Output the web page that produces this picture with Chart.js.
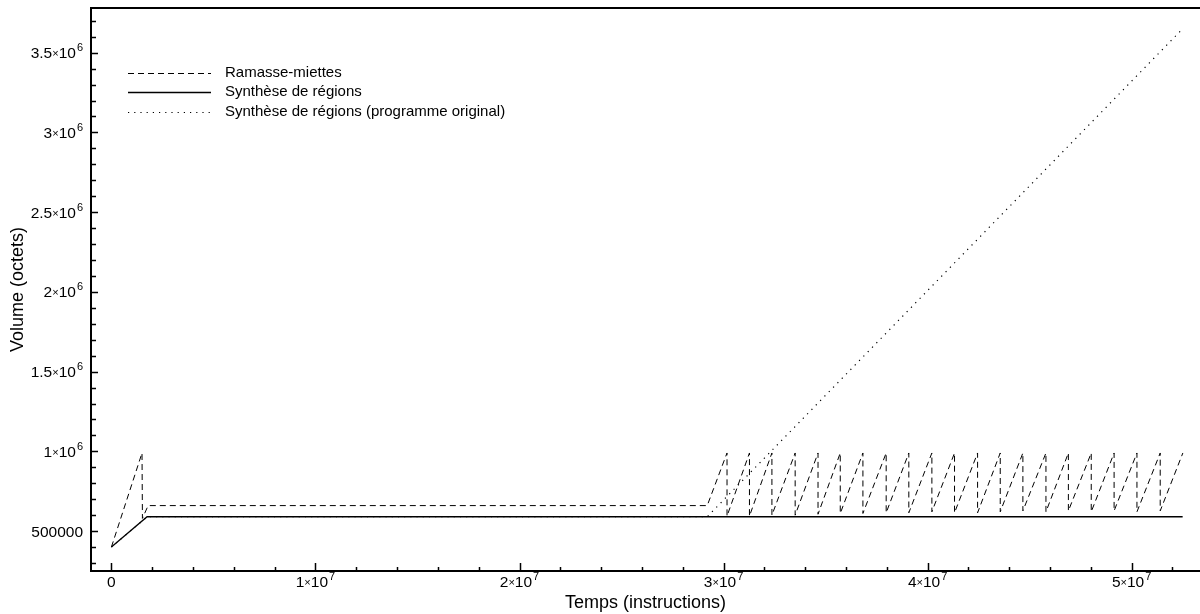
<!DOCTYPE html>
<html lang="fr">
<head>
<meta charset="UTF-8">
<title>Volume mémoire</title>
<script src="https://cdn.jsdelivr.net/npm/chart.js"></script>
<style>
  html, body { margin: 0; padding: 0; background: #fff; }
  #wrap { width: 1200px; height: 614px; }
</style>
</head>
<body>
<div id="wrap"><canvas id="memChart" width="1200" height="614"></canvas></div>
<script>
// --- data ---
const seriesLabels = [
  "Ramasse-miettes",
  "Synthèse de régions",
  "Synthèse de régions (programme original)"
];

// garbage collector: first spike, long plateau, then sawtooth
const gcStartTimes   = [0, 1500000, 1520000, 1800000, 29200000];
const gcStartVolumes = [400000, 990000, 580000, 660000, 660000];
const sawPeakTimes = [
  30170000, 31270000, 32370000, 33510000, 34630000, 35720000, 36830000,
  37970000, 39080000, 40210000, 41320000, 42450000, 43560000, 44670000,
  45800000, 46900000, 48020000, 49140000, 50260000, 51400000, 52510000
];
const sawPeakVolumes = [
  990000, 990000, 990000, 990000, 990000, 990000, 990000,
  990000, 990000, 990000, 990000, 990000, 990000, 990000,
  990000, 990000, 990000, 990000, 990000, 990000, 990000
];
const sawBottomVolumes = [
  594000, 594000, 600000, 600000, 606000, 611000, 611000,
  615000, 615000, 621000, 615000, 615000, 621000, 627000,
  621000, 627000, 621000, 627000, 621000, 627000
];

const regionTimes   = [0, 1750000, 52500000];
const regionVolumes = [400000, 590000, 590000];

const origTimes   = [0, 1750000, 29200000, 52500000];
const origVolumes = [400000, 590000, 590000, 3650000];

const xTickValues = [0, 10000000, 20000000, 30000000, 40000000, 50000000];
const xTickLabels = ["0", "1×10⁷", "2×10⁷", "3×10⁷", "4×10⁷", "5×10⁷"];
const yTickValues = [500000, 1000000, 1500000, 2000000, 2500000, 3000000, 3500000];
const yTickLabels = ["500000", "1×10⁶", "1.5×10⁶", "2×10⁶", "2.5×10⁶", "3×10⁶", "3.5×10⁶"];

const xMinorStep = 2000000;
const yMinorStep = 100000;

// --- build point lists ---
const zip = (xs, ys) => xs.map((x, i) => ({ x: x, y: ys[i] }));

const gcPoints = zip(gcStartTimes, gcStartVolumes);
sawPeakTimes.forEach((t, i) => {
  gcPoints.push({ x: t, y: sawPeakVolumes[i] });
  if (i < sawBottomVolumes.length) gcPoints.push({ x: t, y: sawBottomVolumes[i] });
});

const FONT = "'Liberation Sans', Arial, Helvetica, sans-serif";
const TICK_SIZE = 15.5;
const SMALL_SIZE = 11;
const SUPS = "⁰¹²³⁴⁵⁶⁷⁸⁹";

// draws "m×10ᵉ" with a real raised exponent; plain labels as is
function drawTickLabel(ctx, label, x, y, align) {
  const parts = label.split("×10");
  const big = TICK_SIZE + "px " + FONT;
  const small = SMALL_SIZE + "px " + FONT;
  ctx.textBaseline = "alphabetic";
  ctx.textAlign = "left";
  const base = y + TICK_SIZE * 0.36;
  if (parts.length < 2) {
    ctx.font = big;
    const w = ctx.measureText(label).width;
    ctx.fillText(label, align === "right" ? x - w : x - w / 2, base);
    return;
  }
  const exp = parts[1].split("").map(c => SUPS.indexOf(c)).join("");
  ctx.font = big;
  const wm = ctx.measureText(parts[0]).width;
  const wt = ctx.measureText("10").width;
  ctx.font = small;
  const wx = ctx.measureText("×").width;
  const we = ctx.measureText(exp).width;
  const total = wm + wx + wt + we + 1;
  let cx = align === "right" ? x - total : x - total / 2;
  ctx.font = big;
  ctx.fillText(parts[0], cx, base);
  cx += wm;
  ctx.font = small;
  ctx.fillText("×", cx, base - 1);
  cx += wx;
  ctx.font = big;
  ctx.fillText("10", cx, base);
  cx += wt + 1;
  ctx.font = small;
  ctx.fillText(exp, cx, base - TICK_SIZE * 0.45);
}

// inward tick marks, tick labels, top frame line and the in-plot legend
const framePlugin = {
  id: "frame",
  afterDraw(chart) {
    const { ctx, chartArea: a, scales } = chart;
    const xs = scales.x, ys = scales.y;
    ctx.save();
    ctx.strokeStyle = "#000";
    ctx.fillStyle = "#000";
    ctx.lineWidth = 1.5;
    ctx.beginPath();
    for (let v = 0; v <= xs.max; v += xMinorStep) {
      const px = Math.round(xs.getPixelForValue(v)) + 0.5;
      const len = xTickValues.includes(v) ? 8 : 4;
      ctx.moveTo(px, a.bottom);
      ctx.lineTo(px, a.bottom - len);
    }
    for (let v = 300000; v <= ys.max; v += yMinorStep) {
      const py = Math.round(ys.getPixelForValue(v)) + 0.5;
      const len = yTickValues.includes(v) ? 7 : 5;
      ctx.moveTo(a.left, py);
      ctx.lineTo(a.left + len, py);
    }
    ctx.stroke();

    xTickValues.forEach((v, i) => {
      drawTickLabel(ctx, xTickLabels[i], xs.getPixelForValue(v), a.bottom + 10, "center");
    });
    yTickValues.forEach((v, i) => {
      drawTickLabel(ctx, yTickLabels[i], a.left - 8, ys.getPixelForValue(v), "right");
    });

    // top border
    ctx.lineWidth = 2;
    ctx.beginPath();
    ctx.moveTo(a.left, a.top);
    ctx.lineTo(a.right, a.top);
    ctx.stroke();

    // legend
    ctx.font = "15px " + FONT;
    ctx.textBaseline = "middle";
    ctx.textAlign = "left";
    chart.data.datasets.forEach((ds, i) => {
      const y = 72.5 + i * 19.6;
      ctx.setLineDash(ds.borderDash || []);
      ctx.lineWidth = ds.borderWidth;
      ctx.beginPath();
      ctx.moveTo(128, Math.round(y) + 0.5);
      ctx.lineTo(211, Math.round(y) + 0.5);
      ctx.stroke();
      ctx.setLineDash([]);
      ctx.fillText(ds.label, 225, y);
    });
    ctx.restore();
  }
};

new Chart(document.getElementById("memChart").getContext("2d"), {
  type: "line",
  data: {
    datasets: [
      {
        label: seriesLabels[0],
        data: gcPoints,
        borderColor: "#000",
        borderWidth: 1,
        borderDash: [6, 4],
        pointRadius: 0,
        tension: 0
      },
      {
        label: seriesLabels[1],
        data: zip(regionTimes, regionVolumes),
        borderColor: "#000",
        borderWidth: 1.3,
        pointRadius: 0,
        tension: 0
      },
      {
        label: seriesLabels[2],
        data: zip(origTimes, origVolumes),
        borderColor: "#000",
        borderWidth: 1.2,
        borderDash: [1.2, 5],
        pointRadius: 0,
        tension: 0
      }
    ]
  },
  options: {
    responsive: false,
    animation: false,
    layout: { padding: { top: 8, right: 0, bottom: 0, left: 0 } },
    plugins: {
      legend: { display: false },
      tooltip: { enabled: false }
    },
    scales: {
      x: {
        type: "linear",
        min: -1000000,
        max: 53350000,
        afterFit: s => { s.height = 43; s.paddingLeft = 0; s.paddingRight = 0; },
        grid: { display: false, drawTicks: false },
        border: { display: true, color: "#000", width: 2 },
        ticks: { display: false },
        title: {
          display: true,
          text: "Temps (instructions)",
          color: "#000",
          font: { family: FONT, size: 18, lineHeight: 1.2 },
          padding: { top: 0, bottom: 0 }
        }
      },
      y: {
        type: "linear",
        min: 250000,
        max: 3780000,
        afterFit: s => { s.width = 91; s.paddingTop = 0; s.paddingBottom = 0; },
        grid: { display: false, drawTicks: false },
        border: { display: true, color: "#000", width: 2 },
        ticks: { display: false },
        title: {
          display: true,
          text: "Volume (octets)",
          color: "#000",
          font: { family: FONT, size: 18, lineHeight: 1.2 },
          padding: { top: 7, bottom: 0 }
        }
      }
    }
  },
  plugins: [framePlugin]
});
</script>
</body>
</html>
